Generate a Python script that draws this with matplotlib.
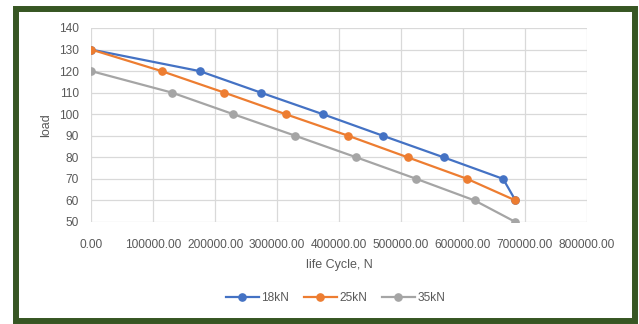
import matplotlib
matplotlib.use("Agg")
import matplotlib.pyplot as plt
from matplotlib.patches import Rectangle
from matplotlib.ticker import MultipleLocator, FuncFormatter

series_names = ["18kN", "25kN", "35kN"]
cycles_18 = [0, 175000, 274000, 374000, 471000, 569000, 665000, 685000]
load_18 = [130, 120, 110, 100, 90, 80, 70, 60]
cycles_25 = [0, 113500, 215000, 314000, 415000, 511000, 607000, 685000]
load_25 = [130, 120, 110, 100, 90, 80, 70, 60]
cycles_35 = [0, 130500, 229500, 329500, 428000, 525000, 619000, 685000]
load_35 = [120, 110, 100, 90, 80, 70, 60, 50]
colors = ["#4472C4", "#ED7D31", "#A5A5A5"]

plt.rcParams['font.family'] = ['Liberation Sans', 'DejaVu Sans']

fig = plt.figure(figsize=(6.39, 3.24), dpi=100)
fig.patches.append(Rectangle((16 / 639, 3.5 / 324), (634.5 - 16) / 639, (315 - 3.5) / 324,
                             transform=fig.transFigure, fill=False,
                             edgecolor="#375623", linewidth=4.3, zorder=0))

ax = fig.add_axes([91.3 / 639, (324 - 222) / 324, (586.7 - 91.3) / 639, (222 - 28) / 324])
for xs, ys, name, c in zip([cycles_18, cycles_25, cycles_35], [load_18, load_25, load_35],
                           series_names, colors):
    ax.plot(xs, ys, color=c, lw=1.6, marker="o", ms=5.2, label=name, zorder=3)

ax.set_xlim(0, 800000)
ax.set_ylim(50, 140)
ax.xaxis.set_major_locator(MultipleLocator(100000))
ax.yaxis.set_major_locator(MultipleLocator(10))
ax.xaxis.set_major_formatter(FuncFormatter(lambda v, p: f"{v:.2f}"))
ax.grid(True, color="#D9D9D9", lw=0.9)
ax.set_axisbelow(True)
for s in ax.spines.values():
    s.set_visible(False)
ax.tick_params(length=0, labelsize=8.6, colors="#595959", pad=9)
ax.tick_params(axis="x", pad=12)
ax.set_xlabel("life Cycle, N", fontsize=9, color="#595959", labelpad=6)
ax.set_ylabel("load", fontsize=9, color="#595959", labelpad=5)

fig.legend(loc="center", bbox_to_anchor=(0.525, 0.08), ncol=3, frameon=False,
           fontsize=8.6, labelcolor="#595959", handlelength=2.8, columnspacing=1.2,
           handletextpad=0.2)

fig.savefig("out.png", dpi=100)
